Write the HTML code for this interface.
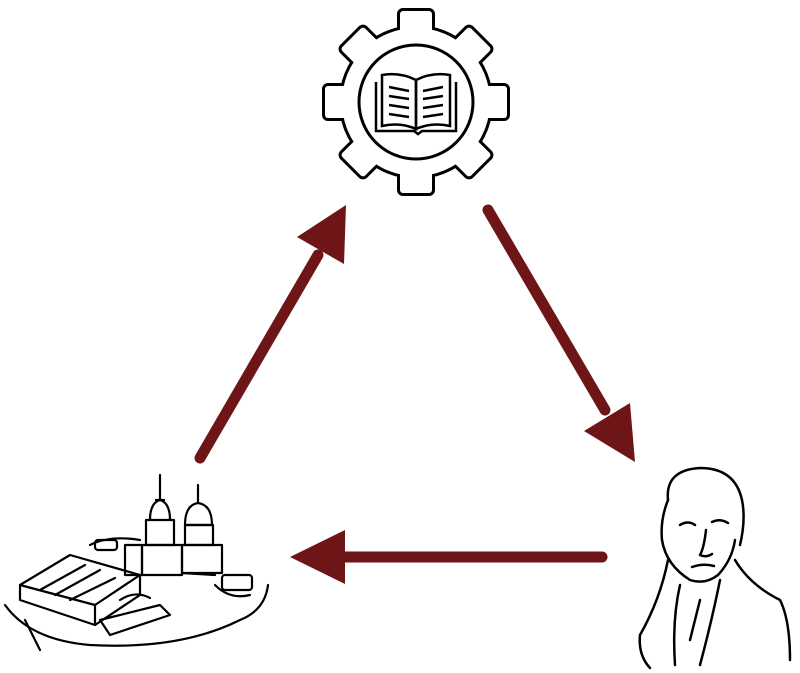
<!DOCTYPE html>
<html><head><meta charset="utf-8"><style>html,body{margin:0;padding:0;background:#fff}svg{display:block}</style></head>
<body>
<svg width="800" height="673" viewBox="0 0 800 673" xmlns="http://www.w3.org/2000/svg">
<g transform="translate(416,102)">
  <g stroke="#000" stroke-width="6" fill="#000" stroke-linejoin="round">
    <circle r="74"/>
    <g id="t"><rect x="-16" y="-91" width="32" height="30" rx="3"/></g>
    <use href="#t" transform="rotate(45)"/><use href="#t" transform="rotate(90)"/><use href="#t" transform="rotate(135)"/>
    <use href="#t" transform="rotate(180)"/><use href="#t" transform="rotate(225)"/><use href="#t" transform="rotate(270)"/><use href="#t" transform="rotate(315)"/>
  </g>
  <g fill="#fff">
    <circle r="74"/>
    <rect x="-16" y="-91" width="32" height="30" rx="3"/>
    <rect x="-16" y="-91" width="32" height="30" rx="3" transform="rotate(45)"/>
    <rect x="-16" y="-91" width="32" height="30" rx="3" transform="rotate(90)"/>
    <rect x="-16" y="-91" width="32" height="30" rx="3" transform="rotate(135)"/>
    <rect x="-16" y="-91" width="32" height="30" rx="3" transform="rotate(180)"/>
    <rect x="-16" y="-91" width="32" height="30" rx="3" transform="rotate(225)"/>
    <rect x="-16" y="-91" width="32" height="30" rx="3" transform="rotate(270)"/>
    <rect x="-16" y="-91" width="32" height="30" rx="3" transform="rotate(315)"/>
  </g>
  <circle r="57" fill="none" stroke="#000" stroke-width="3"/>
  <g fill="none" stroke="#000" stroke-width="2.5">
    <path d="M-40,-20 V29 H-2 L2,32 L6,29 H40 V-20"/>
    <path d="M-34,-27 Q-16,-30 0,-22 V27 Q-16,20 -34,24 Z"/>
    <path d="M34,-27 Q16,-30 0,-22 V27 Q16,20 34,24 Z"/>
    <path d="M-27,-15 L-7,-11 M-27,-6 L-7,-3 M-27,3 L-7,6 M-27,12 L-7,15 M7,-11 L27,-15 M7,-3 L27,-6 M7,6 L27,3 M7,15 L27,12"/>
  </g>
</g>
<g fill="#6e1518" stroke="none">
  <line x1="200" y1="458" x2="318" y2="255" stroke="#6e1518" stroke-width="11" stroke-linecap="round"/>
  <polygon points="346,205 344,264 297,237"/>
  <line x1="488" y1="210" x2="605" y2="410" stroke="#6e1518" stroke-width="11" stroke-linecap="round"/>
  <polygon points="635,462 584,431 630,403"/>
  <line x1="602" y1="557" x2="340" y2="557" stroke="#6e1518" stroke-width="11" stroke-linecap="round"/>
  <polygon points="290,557 345,530 345,584"/>
</g>
<!-- portrait -->
<g fill="none" stroke="#000" stroke-width="2.5" stroke-linecap="round" stroke-linejoin="round">
  <path d="M668,500 Q665,470 700,468 Q735,468 742,500 Q746,520 740,545"/>
  <path d="M668,500 Q660,520 662,540 Q666,565 690,580 Q705,585 718,575 Q732,560 735,540"/>
  <path d="M680,525 Q688,520 695,525 M712,522 Q720,518 728,523"/>
  <path d="M706,530 Q704,548 700,555 Q706,558 712,554"/>
  <path d="M692,567 Q703,563 714,566"/>
  <path d="M668,560 Q660,600 640,635 Q638,655 650,668"/>
  <path d="M735,560 Q750,585 780,600 Q790,620 790,660"/>
  <path d="M680,585 Q672,620 675,665 M720,580 Q712,620 700,665 M700,600 L690,640"/>
</g>
<!-- building -->
<g fill="none" stroke="#000" stroke-width="2.2" stroke-linejoin="round" stroke-linecap="round">
  <path d="M160,475 L160,500 M156,500 L164,500 M150,520 Q150,503 160,500 Q170,503 170,520"/>
  <rect x="146" y="520" width="28" height="25"/>
  <rect x="142" y="545" width="40" height="30"/>
  <path d="M198,485 V503 M185,525 Q185,505 198,503 Q212,505 212,525 Z"/>
  <rect x="185" y="525" width="28" height="20"/>
  <rect x="182" y="545" width="40" height="28"/>
  <path d="M125,545 H142 V575 H125 Z"/>
  <path d="M90,545 Q110,535 140,540"/>
  <rect x="95" y="540" width="22" height="10" rx="3"/>
  <path d="M20,585 L70,555 L140,575 L95,605 Z"/>
  <path d="M20,585 V600 L95,625 V605 M95,625 L140,595 V575"/>
  <path d="M40,590 L85,565 M55,595 L100,570 M70,600 L115,578"/>
  <path d="M100,620 L160,605 L170,615 L110,635 Z"/>
  <path d="M120,600 Q135,590 150,598"/>
  <rect x="222" y="575" width="30" height="15" rx="3"/>
  <path d="M215,585 Q230,600 250,595"/>
  <path d="M5,605 Q30,640 90,645 Q180,650 240,620 Q265,610 268,585"/>
  <path d="M25,620 L40,650"/>
  <path d="M182,573 L215,575"/>
</g>
</svg>
</body></html>
